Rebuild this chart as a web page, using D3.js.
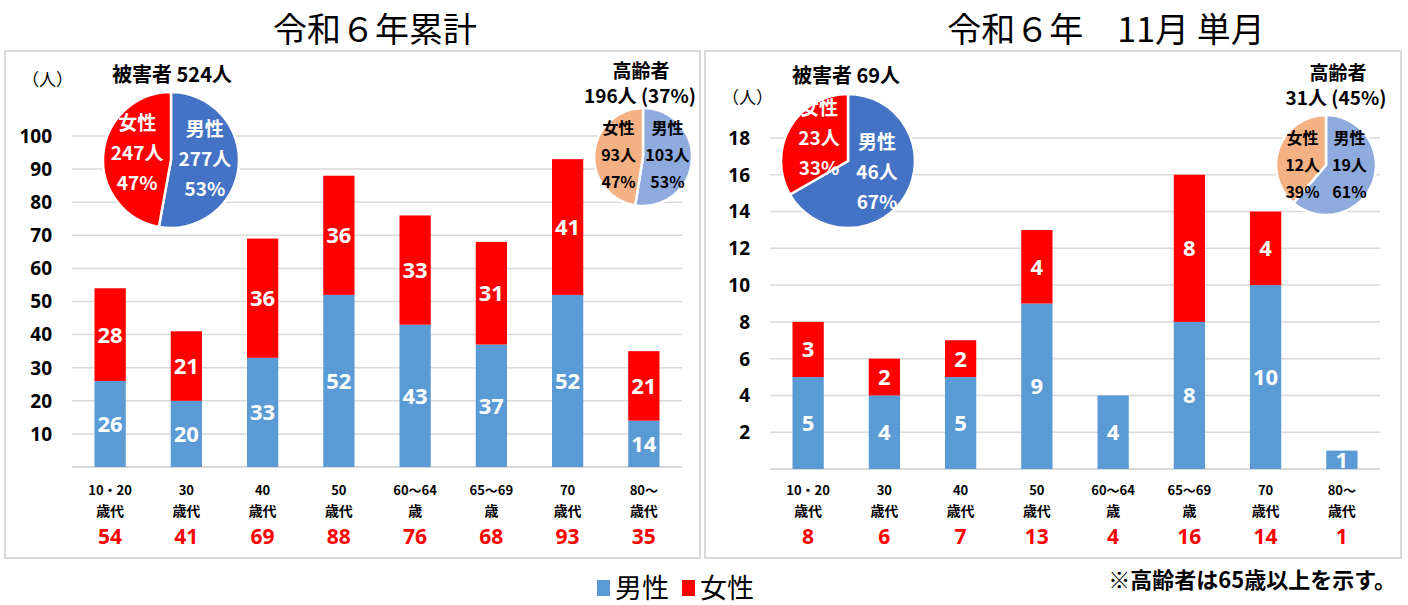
<!DOCTYPE html>
<html>
<head>
<meta charset="utf-8">
<script src="https://cdn.jsdelivr.net/npm/d3@7"></script>
<style>
  body { margin: 0; background: #fff; }
  svg { display: block; }
  text { font-family: "Noto Sans CJK JP", "Noto Sans", sans-serif; }
  .num { font-family: "Open Sans", "Noto Sans", sans-serif; font-weight: 700; }
</style>
</head>
<body>
<svg id="chart" width="1408" height="605"></svg>
<script>
// ---- data ----
var ageTop = ["10・20", "30", "40", "50", "60～64", "65～69", "70", "80～"];
var ageBottom = ["歳代", "歳代", "歳代", "歳代", "歳", "歳", "歳代", "歳代"];

var cumMale = [26, 20, 33, 52, 43, 37, 52, 14];
var cumFemale = [28, 21, 36, 36, 33, 31, 41, 21];
var monMale = [5, 4, 5, 9, 4, 8, 10, 1];
var monFemale = [3, 2, 2, 4, 0, 8, 4, 0];

var cumTicks = [10, 20, 30, 40, 50, 60, 70, 80, 90, 100];
var monTicks = [2, 4, 6, 8, 10, 12, 14, 16, 18];

// [male, female]
var cumVictims = [277, 247];
var cumElderly = [103, 93];
var monVictims = [46, 23];
var monElderly = [19, 12];

var BAR_BLUE = "#5b9bd5", BAR_RED = "#ff0000";
var GRID = "#d9d9d9";

var svg = d3.select("#chart");

// panels
svg.append("rect").attr("x", 5).attr("y", 51).attr("width", 695).attr("height", 507)
    .attr("fill", "none").attr("stroke", GRID).attr("stroke-width", 2);
svg.append("rect").attr("x", 705).attr("y", 51).attr("width", 696).attr("height", 507)
    .attr("fill", "none").attr("stroke", GRID).attr("stroke-width", 2);

// titles
svg.append("text").attr("x", 375).attr("y", 42).attr("text-anchor", "middle")
    .style("font-size", "34px").text("令和６年累計");
svg.append("text").attr("x", 1106).attr("y", 42).attr("text-anchor", "middle")
    .style("font-size", "34px").text("令和６年　11月 単月");

function drawBars(opt) {
    var x = d3.scaleBand().domain(d3.range(ageTop.length)).range([opt.x0, opt.x1]).paddingInner(0.59).paddingOuter(0.295);
    var y = d3.scaleLinear().domain([0, opt.max]).range([opt.base, opt.top]);
    var g = svg.append("g");

    // grid
    g.selectAll(".grid").data(opt.ticks).join("line")
        .attr("x1", opt.x0).attr("x2", opt.x1)
        .attr("y1", d => y(d)).attr("y2", d => y(d))
        .attr("stroke", GRID).attr("stroke-width", 1.5);
    g.append("line").attr("x1", opt.x0).attr("x2", opt.x1)
        .attr("y1", y(0)).attr("y2", y(0)).attr("stroke", GRID).attr("stroke-width", 2);

    // y labels
    g.selectAll(".yl").data(opt.ticks).join("text")
        .attr("class", "num")
        .attr("x", opt.x0 - 20).attr("y", d => y(d)).attr("dy", "0.36em")
        .attr("text-anchor", "end").style("font-size", "19px")
        .text(d => d);
    g.append("text").attr("x", opt.unitX).attr("y", opt.unitY)
        .style("font-size", "17px").text("（人）");

    var rows = opt.male.map((m, i) => ({ i: i, m: m, f: opt.female[i] }));

    g.selectAll(".bm").data(rows).join("rect")
        .attr("x", d => x(d.i)).attr("width", x.bandwidth())
        .attr("y", d => y(d.m)).attr("height", d => y(0) - y(d.m))
        .attr("fill", BAR_BLUE);
    g.selectAll(".bf").data(rows.filter(d => d.f > 0)).join("rect")
        .attr("x", d => x(d.i)).attr("width", x.bandwidth())
        .attr("y", d => y(d.m + d.f)).attr("height", d => y(d.m) - y(d.m + d.f))
        .attr("fill", BAR_RED);

    // segment labels
    g.selectAll(".lm").data(rows).join("text")
        .attr("class", "num")
        .attr("x", d => x(d.i) + x.bandwidth() / 2)
        .attr("y", d => (y(0) + y(d.m)) / 2).attr("dy", "0.36em")
        .attr("text-anchor", "middle").attr("fill", "#fff").style("font-size", "22px")
        .text(d => d.m);
    g.selectAll(".lf").data(rows.filter(d => d.f > 0)).join("text")
        .attr("class", "num")
        .attr("x", d => x(d.i) + x.bandwidth() / 2)
        .attr("y", d => (y(d.m) + y(d.m + d.f)) / 2).attr("dy", "0.36em")
        .attr("text-anchor", "middle").attr("fill", "#fff").style("font-size", "22px")
        .text(d => d.f);

    // category labels
    var cx = i => x(i) + x.bandwidth() / 2;
    g.selectAll(".c1").data(ageTop).join("text")
        .attr("x", (d, i) => cx(i)).attr("y", 495)
        .attr("text-anchor", "middle").style("font-size", "13px").style("font-weight", 700)
        .text(d => d);
    g.selectAll(".c2").data(ageBottom).join("text")
        .attr("x", (d, i) => cx(i)).attr("y", 516)
        .attr("text-anchor", "middle").style("font-size", "14px").style("font-weight", 700)
        .text(d => d);
    g.selectAll(".tot").data(rows).join("text")
        .attr("class", "num")
        .attr("x", d => cx(d.i)).attr("y", 544)
        .attr("text-anchor", "middle").attr("fill", BAR_RED).style("font-size", "21px")
        .text(d => d.m + d.f);
}

function drawPie(opt) {
    var total = d3.sum(opt.values);
    var pie = d3.pie().sort(null);
    var arc = d3.arc().innerRadius(0).outerRadius(opt.r);
    var lab = d3.arc().innerRadius(opt.r * 0.5).outerRadius(opt.r * 0.5);
    var g = svg.append("g").attr("transform", "translate(" + opt.cx + "," + opt.cy + ")");
    var arcs = pie(opt.values);
    g.selectAll("path").data(arcs).join("path")
        .attr("d", arc).attr("fill", (d, i) => opt.colors[i])
        .attr("stroke", "#fff").attr("stroke-width", 2.5);

    var names = ["男性", "女性"];
    arcs.forEach(function(a, i) {
        var c = lab.centroid(a);
        var ly = c[1] * opt.yk + opt.dy;
        var lines = [names[i], opt.values[i] + "人", Math.round(opt.values[i] / total * 100) + "%"];
        lines.forEach(function(t, k) {
            g.append("text")
                .attr("x", c[0])
                .attr("y", ly + (k - 1) * opt.lh).attr("dy", "0.36em")
                .attr("text-anchor", "middle").attr("fill", opt.textColor)
                .style("font-size", opt.fs + "px").style("font-weight", 700)
                .text(t);
        });
    });
}

// ---- left panel ----
drawBars({ x0: 72, x1: 682, base: 467, top: 136, max: 100, ticks: cumTicks,
    male: cumMale, female: cumFemale, unitX: 22, unitY: 86 });
drawPie({ cx: 171, cy: 160, r: 68, values: cumVictims, colors: ["#4472c4", "#ff0000"],
    textColor: "#fff", fs: 19, lh: 30, yk: 1, dy: -4 });
drawPie({ cx: 643, cy: 157, r: 49, values: cumElderly, colors: ["#8faadc", "#f4b183"],
    textColor: "#000", fs: 16, lh: 27, yk: 0, dy: -2 });

svg.append("text").attr("x", 172).attr("y", 82).attr("text-anchor", "middle")
    .style("font-size", "20px").style("font-weight", 700)
    .text("被害者  " + d3.sum(cumVictims) + "人");
svg.append("text").attr("x", 641).attr("y", 78).attr("text-anchor", "middle")
    .style("font-size", "19px").style("font-weight", 700).text("高齢者");
svg.append("text").attr("x", 640).attr("y", 103).attr("text-anchor", "middle")
    .style("font-size", "19px").style("font-weight", 700)
    .text(d3.sum(cumElderly) + "人 (" + Math.round(d3.sum(cumElderly) / d3.sum(cumVictims) * 100) + "%)");

// ---- right panel ----
drawBars({ x0: 770, x1: 1380, base: 469, top: 138, max: 18, ticks: monTicks,
    male: monMale, female: monFemale, unitX: 722, unitY: 104 });
drawPie({ cx: 848, cy: 161, r: 67, values: monVictims, colors: ["#4472c4", "#ff0000"],
    textColor: "#fff", fs: 19, lh: 30, yk: 1, dy: -6 });
drawPie({ cx: 1326, cy: 165, r: 50, values: monElderly, colors: ["#8faadc", "#f4b183"],
    textColor: "#000", fs: 16, lh: 27, yk: 0, dy: 0 });

svg.append("text").attr("x", 846).attr("y", 83).attr("text-anchor", "middle")
    .style("font-size", "20px").style("font-weight", 700)
    .text("被害者  " + d3.sum(monVictims) + "人");
svg.append("text").attr("x", 1338).attr("y", 80).attr("text-anchor", "middle")
    .style("font-size", "19px").style("font-weight", 700).text("高齢者");
svg.append("text").attr("x", 1336).attr("y", 105).attr("text-anchor", "middle")
    .style("font-size", "19px").style("font-weight", 700)
    .text(d3.sum(monElderly) + "人 (" + Math.round(d3.sum(monElderly) / d3.sum(monVictims) * 100) + "%)");

// ---- legend ----
var legend = [{ name: "男性", color: BAR_BLUE, x: 597 }, { name: "女性", color: BAR_RED, x: 682 }];
var lg = svg.append("g");
lg.selectAll("rect").data(legend).join("rect")
    .attr("x", d => d.x).attr("y", 580).attr("width", 13).attr("height", 16)
    .attr("fill", d => d.color);
lg.selectAll("text").data(legend).join("text")
    .attr("x", d => d.x + 18).attr("y", 598)
    .style("font-size", "27px").text(d => d.name);

svg.append("text").attr("x", 1396).attr("y", 588).attr("text-anchor", "end")
    .style("font-size", "22px").style("font-weight", 700)
    .text("※高齢者は65歳以上を示す。");
</script>
</body>
</html>
